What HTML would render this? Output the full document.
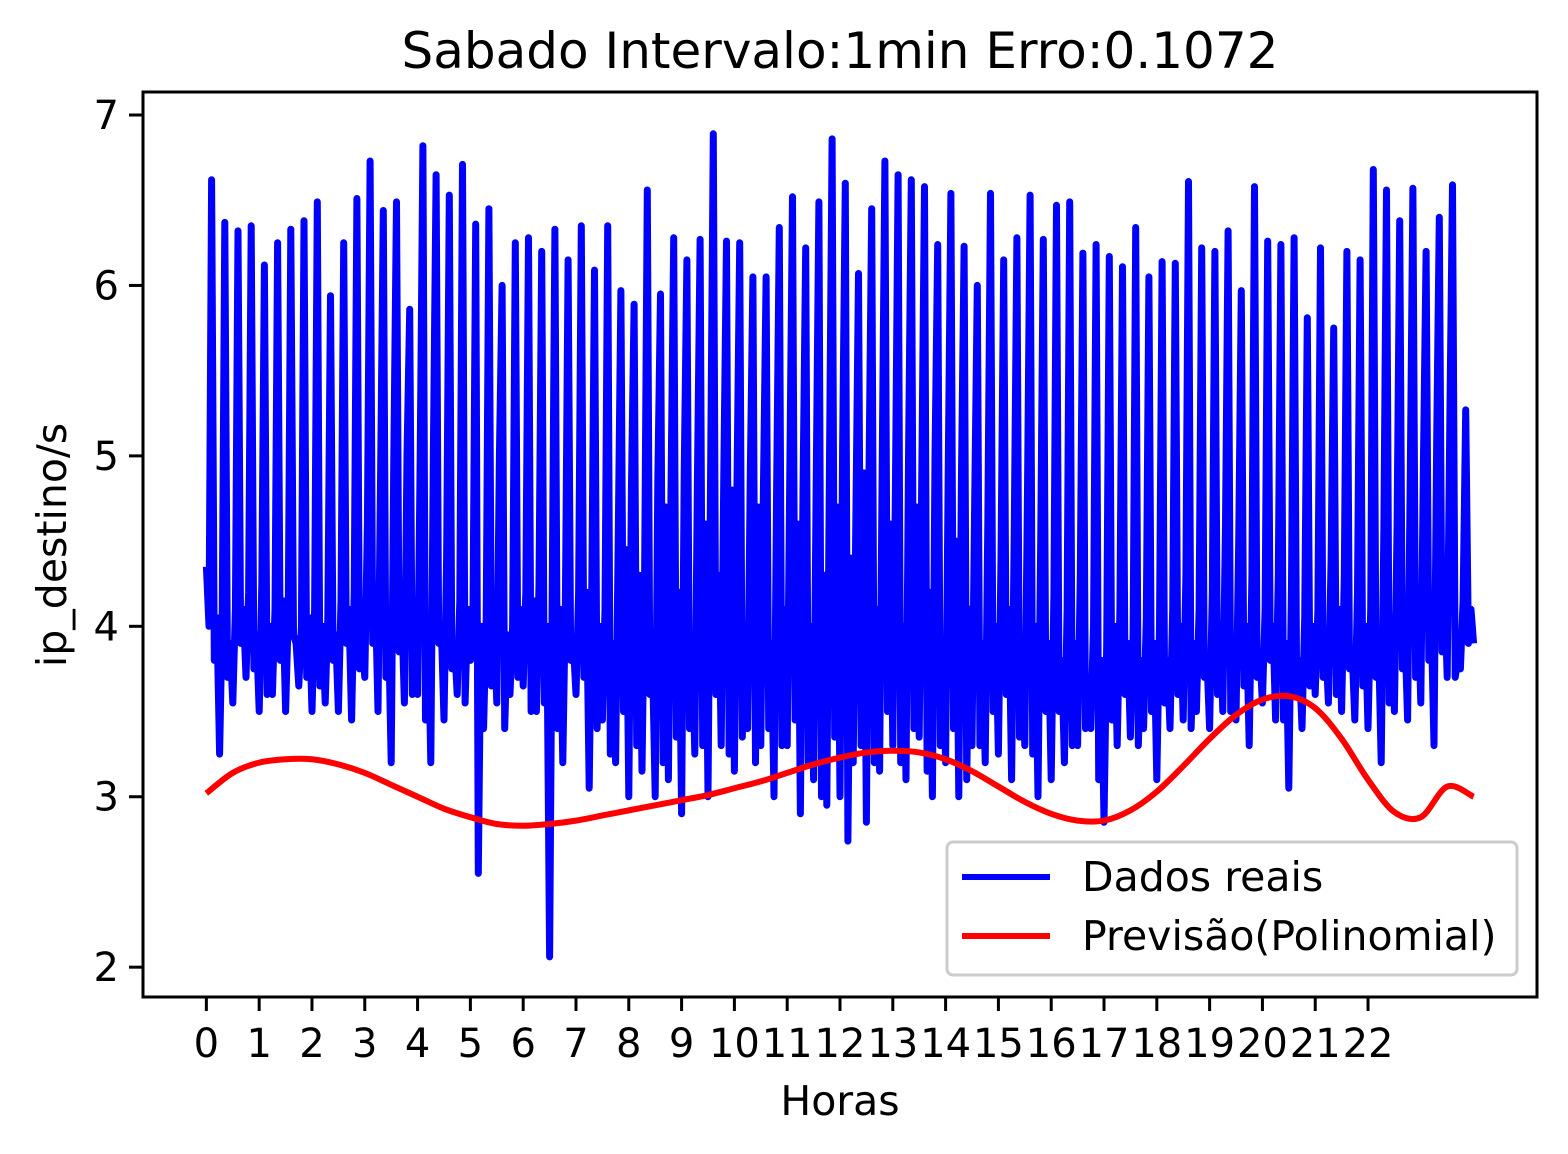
<!DOCTYPE html>
<html><head><meta charset="utf-8"><style>
body{margin:0;background:#fff}
svg{display:block;font-family:"DejaVu Sans","Liberation Sans",sans-serif}
</style></head><body>
<svg id="chart" width="1568" height="1154" xmlns="http://www.w3.org/2000/svg">
<rect width="1568" height="1154" fill="#fff"/>
<text x="840" y="68" font-size="50" text-anchor="middle">Sabado Intervalo:1min Erro:0.1072</text>
<text x="840" y="1115" font-size="41" text-anchor="middle">Horas</text>
<text x="0" y="0" font-size="41" text-anchor="middle" transform="translate(66,545) rotate(-90)">ip_destino/s</text>
<g id="plot"></g>
<g id="axes"></g>
<g>
<rect x="947" y="842" width="570" height="133" rx="6" fill="#fff" fill-opacity="0.8" stroke="#ccc" stroke-width="3"/>
<line x1="962" y1="877" x2="1050" y2="877" stroke="#0000ff" stroke-width="6"/>
<text x="1082" y="891" font-size="41">Dados reais</text>
<line x1="962" y1="936" x2="1050" y2="936" stroke="#ff0000" stroke-width="6"/>
<text x="1082" y="950" font-size="41">Previsão(Polinomial)</text>
</g>
</svg>
<script>
const xTicks=[0,1,2,3,4,5,6,7,8,9,10,11,12,13,14,15,16,17,18,19,20,21,22];
const yTicks=[2,3,4,5,6,7];
const peaks=[6.62,6.37,6.32,6.35,6.12,6.25,6.33,6.38,6.49,5.94,6.25,6.51,6.73,6.44,6.49,5.86,6.82,6.65,6.53,6.71,6.36,6.45,6.00,6.25,6.28,6.20,6.33,6.15,6.35,6.09,6.35,5.97,5.89,6.56,5.95,6.28,6.15,6.27,6.89,6.26,6.25,6.05,6.05,6.34,6.52,6.22,6.49,6.86,6.60,6.07,6.45,6.73,6.65,6.62,6.58,6.24,6.54,6.23,6.00,6.54,6.15,6.28,6.53,6.27,6.47,6.49,6.19,6.24,6.17,6.11,6.34,6.05,6.14,6.13,6.61,6.22,6.20,6.32,5.97,6.58,6.26,6.24,6.28,5.81,6.22,5.75,6.20,6.15,6.68,6.56,6.38,6.57,6.20,6.40,6.59,5.27];
const lows=[4.35,3.25,3.55,3.7,3.5,3.6,3.5,3.65,3.5,3.55,3.5,3.45,3.7,3.5,3.2,3.55,3.6,3.2,3.45,3.6,3.8,3.4,3.55,3.6,3.65,3.5,2.06,3.2,3.6,3.05,3.45,3.2,3.0,3.15,3.0,3.1,2.9,3.25,3.0,3.3,3.15,3.4,3.3,3.0,3.3,2.9,3.1,2.95,3.0,3.2,2.85,3.15,3.3,3.1,3.35,3.0,3.2,3.0,3.3,3.2,3.25,3.1,3.3,3.0,3.1,3.2,3.3,3.4,2.85,3.3,3.35,3.4,3.1,3.4,3.45,3.5,3.4,3.5,3.45,3.3,3.55,3.45,3.05,3.4,3.6,3.55,3.5,3.45,3.4,3.2,3.5,3.45,3.55,3.3,3.7,3.75];
const lows2=[3.8,3.7,3.9,3.75,3.6,3.8,3.95,3.7,3.65,3.8,3.9,3.75,3.9,3.7,3.85,3.6,3.45,3.9,3.75,3.55,2.55,3.65,3.4,3.7,3.5,3.55,3.4,3.8,3.7,3.4,3.25,3.5,3.3,3.6,3.2,3.35,3.4,3.3,3.6,3.25,3.35,3.2,3.4,3.3,3.45,3.2,3.0,3.35,2.74,3.3,3.2,3.5,3.2,3.4,3.15,3.3,3.4,3.1,3.3,3.5,3.6,3.35,3.25,3.5,3.5,3.3,3.4,3.1,3.45,3.6,3.3,3.5,3.55,3.6,3.4,3.7,3.6,3.5,3.65,3.7,3.8,3.45,3.6,3.65,3.7,3.6,3.75,3.65,3.7,3.55,3.75,3.7,3.8,3.85,3.7,3.9];
const mids=[4.0,4.05,4.1,4.2,4.25,4.1,4.05,4.0,4.1,4.05,4.15,4.2,4.6,4.9,5.0,5.0,5.0,5.05,4.4,4.15,4.1,4.05,5.0,4.0,4.2,4.25,4.2,4.15,4.2,4.25,4.1,4.5,4.8,4.3,4.85,4.8,4.9,4.85,4.9,4.9,4.85,4.85,4.8,4.8,4.9,4.8,4.85,4.9,5.05,4.6,4.9,4.95,4.8,5.05,4.9,5.0,4.9,4.85,4.7,4.6,4.4,4.6,4.8,4.5,4.2,4.1,4.3,4.0,3.9,4.1,3.95,4.05,4.0,4.1,4.3,4.1,4.2,4.6,4.5,4.3,4.1,4.3,4.25,4.05,4.1,4.4,4.3,4.2,4.1,4.6,4.6,4.9,5.0,5.1,5.25,4.15];
const mids2=[4.05,3.9,4.1,3.95,4.0,4.15,3.9,4.05,4.0,3.95,4.1,3.9,4.2,4.0,4.1,3.95,4.05,4.0,3.9,4.1,4.0,4.05,3.95,4.1,4.15,4.0,4.1,3.9,4.2,4.0,3.9,4.45,4.3,3.8,4.7,4.2,3.9,4.6,4.3,4.8,4.0,4.7,3.9,4.1,4.6,4.0,4.3,4.7,4.4,4.9,4.1,4.6,4.0,4.7,4.2,3.9,4.5,4.1,3.9,4.0,4.1,3.8,4.0,3.9,3.8,3.9,3.7,3.8,4.0,3.9,3.8,3.9,3.8,4.0,3.9,3.8,4.0,3.9,4.0,3.85,4.0,3.9,3.8,4.0,3.9,4.1,3.85,4.0,3.9,4.05,3.95,4.1,4.0,4.2,3.8,4.1];
const endValue=3.9;
const predHours=[0,0.5,1,1.5,2,2.5,3,3.5,4,4.5,5,5.5,6,6.5,7,7.5,8,8.5,9,9.5,10,10.5,11,11.5,12,12.5,13,13.5,14,14.5,15,15.5,16,16.5,17,17.5,18,18.5,19,19.5,20,20.5,21,21.5,22,22.5,23,23.5,24];
const predValues=[3.02,3.14,3.20,3.22,3.22,3.19,3.14,3.07,3.00,2.93,2.88,2.84,2.83,2.84,2.86,2.89,2.92,2.95,2.98,3.01,3.05,3.09,3.14,3.19,3.23,3.26,3.27,3.26,3.22,3.15,3.06,2.97,2.90,2.86,2.86,2.92,3.03,3.18,3.34,3.48,3.57,3.59,3.52,3.34,3.10,2.91,2.88,3.06,3.00];

const L=143,R=1537,T=92,B=997;
const xMin=-1.2,xMax=25.2,yMin=1.825,yMax=7.135;
const X=v=>L+(v-xMin)/(xMax-xMin)*(R-L);
const Y=v=>B-(v-yMin)/(yMax-yMin)*(B-T);
const NS='http://www.w3.org/2000/svg';
const plot=document.getElementById('plot'),axes=document.getElementById('axes');
function mk(tag,attrs,parent){const e=document.createElementNS(NS,tag);for(const k in attrs)e.setAttribute(k,attrs[k]);parent.appendChild(e);return e;}

const pts=[];
for(let k=0;k<peaks.length;k++){
  const t=k*0.25;
  pts.push([t,lows[k]],[t+0.05,mids[k]],[t+0.1,peaks[k]],[t+0.15,lows2[k]],[t+0.2,mids2[k]]);
}
pts.push([24,endValue]);
const real=mk('polyline',{points:pts.map(p=>X(p[0]).toFixed(1)+','+Y(p[1]).toFixed(1)).join(' '),fill:'none',stroke:'#0000ff','stroke-width':7,'stroke-linejoin':'round'},plot);



const pp=predHours.map((h,i)=>[X(h),Y(predValues[i])]);
let d='M'+pp[0][0]+','+pp[0][1];
for(let i=0;i<pp.length-1;i++){
  const p0=pp[Math.max(0,i-1)],p1=pp[i],p2=pp[i+1],p3=pp[Math.min(pp.length-1,i+2)];
  d+=' C'+(p1[0]+(p2[0]-p0[0])/6)+','+(p1[1]+(p2[1]-p0[1])/6)+' '+(p2[0]-(p3[0]-p1[0])/6)+','+(p2[1]-(p3[1]-p1[1])/6)+' '+p2[0]+','+p2[1];
}
const pred=mk('path',{d:d,fill:'none',stroke:'#ff0000','stroke-width':6},plot);



const fr=mk('rect',{x:L,y:T,width:R-L,height:B-T,fill:'none',stroke:'#000','stroke-width':3},axes);


xTicks.forEach(v=>{
  const x=X(v);
  const tk=mk('line',{x1:x,y1:B,x2:x,y2:B+14,stroke:'#000','stroke-width':3},axes);
  
  
  const tx=mk('text',{x:x,y:B+60,'font-size':40,'text-anchor':'middle'},axes);
  tx.textContent=v;
  
  
});
yTicks.forEach(v=>{
  const y=Y(v);
  const tk=mk('line',{x1:L-14,y1:y,x2:L,y2:y,stroke:'#000','stroke-width':3},axes);
  
  
  const tx=mk('text',{x:L-24,y:y+14,'font-size':40,'text-anchor':'end'},axes);
  tx.textContent=v;
  
  
});
</script>
</body></html>
